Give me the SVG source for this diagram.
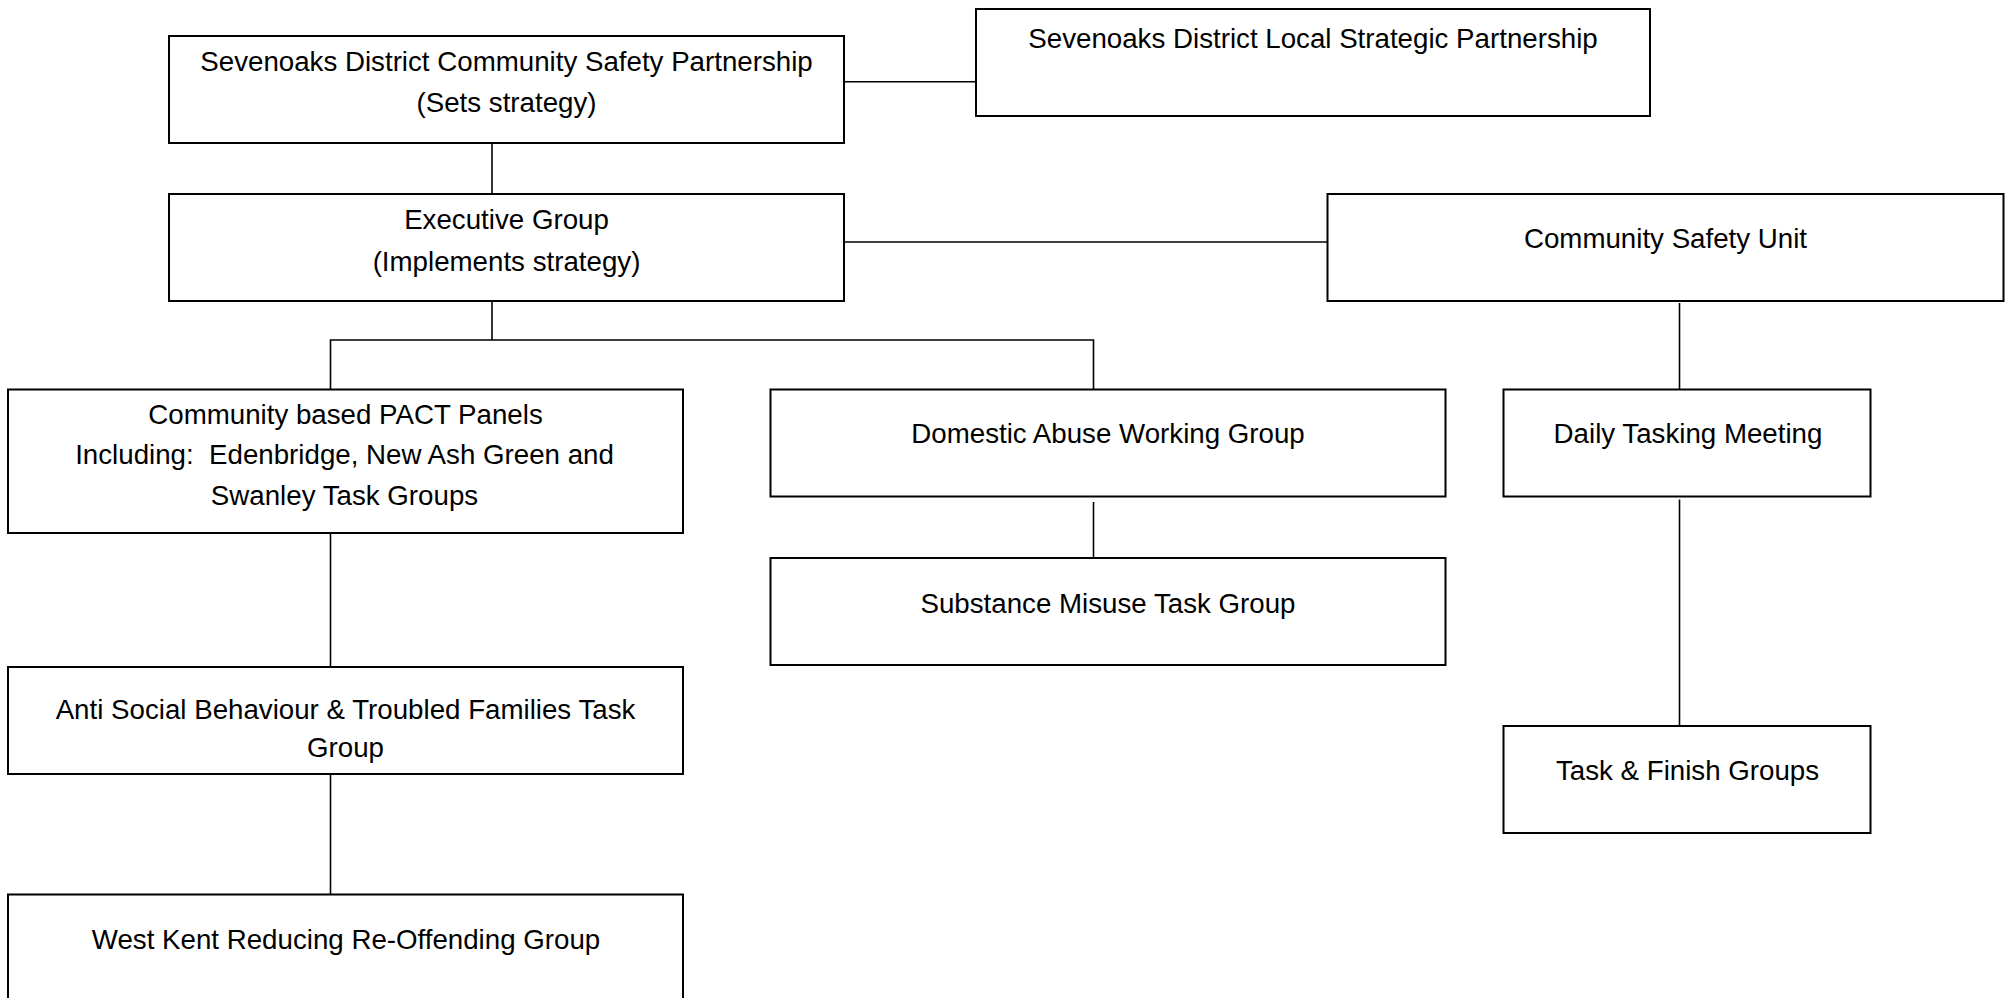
<svg xmlns="http://www.w3.org/2000/svg" width="2011" height="998" viewBox="0 0 2011 998">
<style>
.box{fill:#fff;stroke:#000;stroke-width:2}
.c{stroke:#000;stroke-width:1.6;fill:none}
text{font-family:"Liberation Sans",Arial,sans-serif;font-size:27.7px;fill:#000;text-anchor:middle;white-space:pre}
</style>
<rect width="2011" height="998" fill="#fff"/>
<g id="connectors">
<line class="c" x1="844" y1="81.7" x2="976" y2="81.7"/>
<line class="c" x1="492" y1="143" x2="492" y2="194"/>
<line class="c" x1="844" y1="242" x2="1327.5" y2="242"/>
<line class="c" x1="492" y1="301" x2="492" y2="340"/>
<polyline class="c" points="330.5,389.5 330.5,340 1093.5,340 1093.5,389.5"/>
<line class="c" x1="330.5" y1="533" x2="330.5" y2="670"/>
<line class="c" x1="330.5" y1="774" x2="330.5" y2="895"/>
<line class="c" x1="1093.5" y1="502" x2="1093.5" y2="559"/>
<line class="c" x1="1679.5" y1="303" x2="1679.5" y2="389.5"/>
<line class="c" x1="1679.5" y1="499.5" x2="1679.5" y2="726"/>
</g>
<g id="csp">
<rect class="box" x="169" y="36" width="675" height="107"/>
<text x="506.5" y="71">Sevenoaks District Community Safety Partnership</text>
<text x="506.5" y="112">(Sets strategy)</text>
</g>
<g id="lsp">
<rect class="box" x="976" y="9" width="674" height="107"/>
<text x="1313" y="47.7">Sevenoaks District Local Strategic Partnership</text>
</g>
<g id="exec">
<rect class="box" x="169" y="194" width="675" height="107"/>
<text x="506.5" y="229">Executive Group</text>
<text x="506.5" y="270.7">(Implements strategy)</text>
</g>
<g id="csu">
<rect class="box" x="1327.5" y="194" width="676" height="107"/>
<text x="1665.5" y="248.3">Community Safety Unit</text>
</g>
<g id="pact">
<rect class="box" x="8" y="389.5" width="675" height="143.5"/>
<text x="345.5" y="424">Community based PACT Panels</text>
<text x="344.5" y="464">Including:  Edenbridge, New Ash Green and</text>
<text x="344.5" y="505">Swanley Task Groups</text>
</g>
<g id="asb">
<rect class="box" x="8" y="667" width="675" height="107"/>
<text x="345.5" y="719">Anti Social Behaviour &amp; Troubled Families Task</text>
<text x="345.5" y="756.5">Group</text>
</g>
<g id="wk">
<rect class="box" x="8" y="894.5" width="675" height="112"/>
<text x="346" y="949">West Kent Reducing Re-Offending Group</text>
</g>
<g id="dom">
<rect class="box" x="770.5" y="389.5" width="675" height="107"/>
<text x="1108" y="443">Domestic Abuse Working Group</text>
</g>
<g id="sub">
<rect class="box" x="770.5" y="558" width="675" height="107"/>
<text x="1108" y="612.6">Substance Misuse Task Group</text>
</g>
<g id="daily">
<rect class="box" x="1503.5" y="389.5" width="367" height="107"/>
<text x="1688" y="443">Daily Tasking Meeting</text>
</g>
<g id="task">
<rect class="box" x="1503.5" y="726" width="367" height="107"/>
<text x="1687.5" y="780">Task &amp; Finish Groups</text>
</g>
</svg>
